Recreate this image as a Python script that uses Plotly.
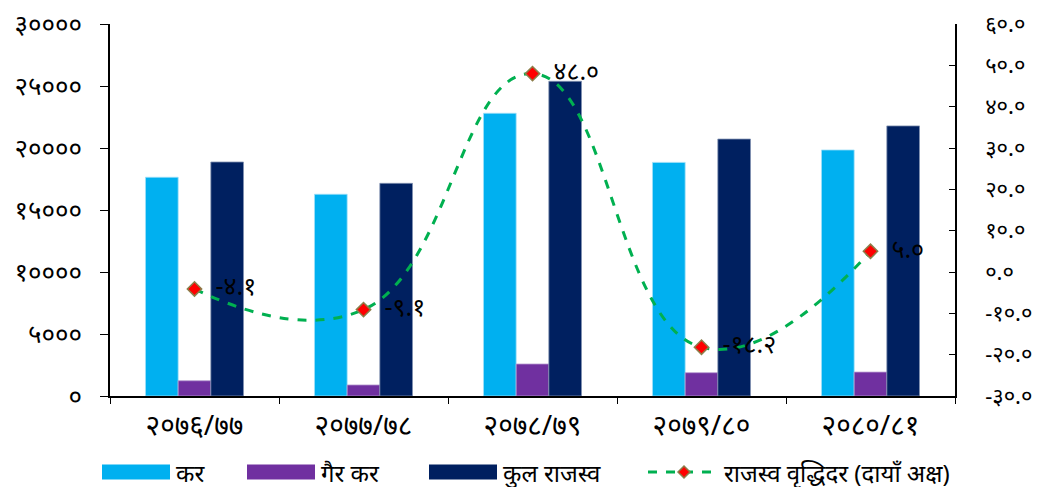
import plotly.graph_objects as go

categories = ["२०७६/७७", "२०७७/७८", "२०७८/७९", "२०७९/८०", "२०८०/८१"]
tax = [17640, 16270, 22800, 18840, 19840]
nontax = [1230, 890, 2580, 1880, 1930]
total = [18870, 17150, 25380, 20720, 21780]
growth = [-4.1, -9.1, 48.0, -18.2, 5.0]
growth_labels = ["-४.१", "-९.१", "४८.०", "-१८.२", "५.०"]

left_vals = [0, 5000, 10000, 15000, 20000, 25000, 30000]
left_text = ["०", "५०००", "१००००", "१५०००", "२००००", "२५०००", "३००००"]
right_vals = [-30, -20, -10, 0, 10, 20, 30, 40, 50, 60]
right_text = ["-३०.०", "-२०.०", "-१०.०", "०.०", "१०.०", "२०.०", "३०.०", "४०.०", "५०.०", "६०.०"]

names = ["कर", "गैर कर", "कुल राजस्व", "राजस्व वृद्धिदर (दायाँ अक्ष)"]
colors = ["#00B0F0", "#7030A0", "#002060", "#00B050"]
edge_colors = ["#9FDFF7", "#B69AD0", "#8090B0"]

FONT = "Noto Sans, DejaVu Sans, sans-serif"

# the page body adds an 8px offset; the figure is sized to fill the rest
OFF = 8
W, H = 1045 - OFF, 487 - OFF
ML, MT = 110 - OFF, 24 - OFF
MR, MB = W - (955 - OFF), H - (396 - OFF)
PW, PH = W - ML - MR, H - MT - MB


def px(x):
    return (x - OFF - ML) / PW


def py(y):
    return (H - MB - (y - OFF)) / PH


fig = go.Figure()
for vals, nm, col, ec in zip([tax, nontax, total], names[:3], colors[:3], edge_colors):
    fig.add_bar(x=categories, y=vals, name=nm, showlegend=False,
                marker=dict(color=col, line=dict(color=ec, width=0.8)))
fig.add_scatter(
    x=categories, y=growth, name=names[3], yaxis="y2", showlegend=False,
    mode="lines+markers+text",
    line=dict(color=colors[3], width=3, dash="dash", shape="spline", smoothing=1.3),
    marker=dict(symbol="diamond", color="#FF0000", size=11, line=dict(color="#8C7E4A", width=1.5)),
    text=["  " + t for t in growth_labels], textposition="middle right",
    textfont=dict(size=25, color="#000000", family=FONT),
)

# legend (drawn as layout decorations, in reference pixel positions)
shapes, annos = [], []
leg_y = 472
swatch_x = [102, 247, 429]
for sx, col, nm in zip(swatch_x, colors[:3], names[:3]):
    shapes.append(dict(type="rect", xref="paper", yref="paper",
                       x0=px(sx), x1=px(sx + 68), y0=py(leg_y + 7.5), y1=py(leg_y - 7.5),
                       fillcolor=col, line=dict(width=0)))
    annos.append(dict(xref="paper", yref="paper", x=px(sx + 72), y=py(leg_y),
                      xanchor="left", yanchor="middle", showarrow=False, text=nm,
                      font=dict(size=24, family=FONT, color="#000000")))
lx0, lx1 = 648, 720
shapes.append(dict(type="line", xref="paper", yref="paper", x0=px(lx0), x1=px(lx1),
                   y0=py(leg_y), y1=py(leg_y), line=dict(color=colors[3], width=3, dash="dash")))
cx, d = (lx0 + lx1) / 2, 6
shapes.append(dict(type="path", xref="paper", yref="paper",
                   path=f"M {px(cx - d)} {py(leg_y)} L {px(cx)} {py(leg_y - d)} L {px(cx + d)} {py(leg_y)} L {px(cx)} {py(leg_y + d)} Z",
                   fillcolor="#FF0000", line=dict(color="#8C7E4A", width=1.5)))
annos.append(dict(xref="paper", yref="paper", x=px(lx1 + 2), y=py(leg_y),
                  xanchor="left", yanchor="middle", showarrow=False, text=names[3],
                  font=dict(size=24, family=FONT, color="#000000")))

fig.update_layout(
    width=W, height=H,
    margin=dict(l=ML, r=MR, t=MT, b=MB, autoexpand=False),
    paper_bgcolor="white", plot_bgcolor="white",
    barmode="group", bargap=0.42, bargroupgap=0,
    font=dict(family=FONT, size=20, color="#000000"),
    showlegend=False,
    shapes=shapes, annotations=annos,
    xaxis=dict(type="category", showline=True, linecolor="#000000", linewidth=1.5,
               ticks="outside", ticklen=6, tickcolor="#000000", tickson="boundaries",
               tickfont=dict(size=28, family=FONT), showgrid=False, ticklabelstandoff=4),
    yaxis=dict(range=[0, 30000], tickvals=left_vals, ticktext=left_text,
               showline=True, linecolor="#000000", linewidth=1.5,
               ticks="outside", ticklen=8, tickcolor="#000000",
               tickfont=dict(size=26, family=FONT), showgrid=False, zeroline=False,
               ticklabelstandoff=13, ticklabeloverflow="allow"),
    yaxis2=dict(range=[-30, 60], tickvals=right_vals, ticktext=right_text,
                overlaying="y", side="right",
                showline=True, linecolor="#000000", linewidth=1.5,
                ticks="inside", ticklen=6, tickcolor="#000000",
                tickfont=dict(size=22, family=FONT), showgrid=False, zeroline=False,
                ticklabelstandoff=24, ticklabeloverflow="allow"),
)

fig.write_html("out.html")
